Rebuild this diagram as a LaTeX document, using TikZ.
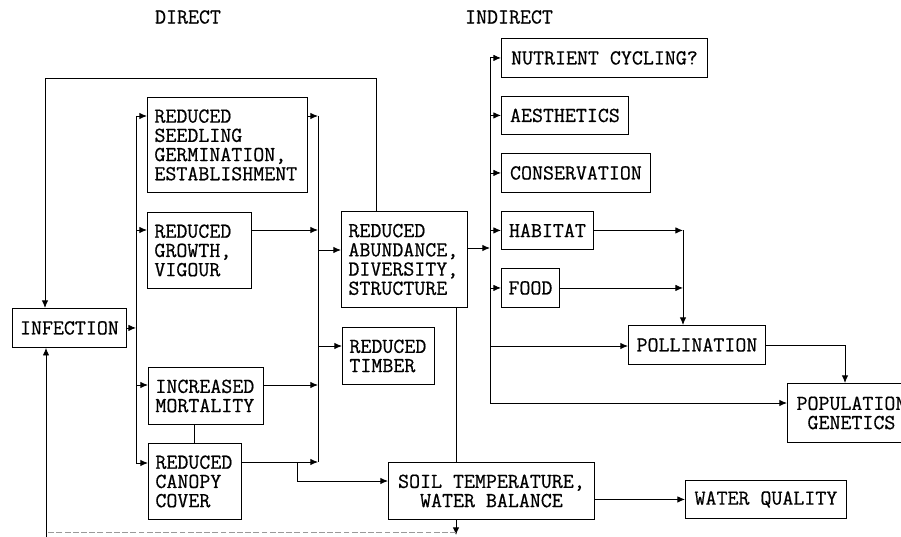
\documentclass[tikz,border=0pt]{standalone}
\usepackage{fontspec}
\usetikzlibrary{arrows.meta}
\newfontfamily\diagtt{Latin Modern Mono}[FakeBold=0.6]
\newcommand\diagfont{\diagtt\fontsize{18.2pt}{16.4pt}\selectfont}
\begin{document}
\begin{tikzpicture}[x=0.03cm,y=-0.03cm,
  box/.style={draw, line width=0.75pt, font=\diagfont, inner sep=0pt, anchor=north west},
  lbox/.style={box, align=left, inner xsep=0.21cm},
  cbox/.style={box, align=center},
  lbl/.style={font=\diagfont, inner sep=0pt},
  line/.style={line width=0.75pt},
  arr/.style={line width=0.75pt, -{Latex[length=6.5pt,width=5.5pt]}},
  faint/.style={line width=0.75pt, draw=black!40, dash pattern=on 5pt off 2pt}]
\useasboundingbox (0,0) rectangle (901,537);
\clip (0,0) rectangle (901,537);

% headings
\node[lbl] (direct) at (188,17) {DIRECT};
\node[lbl] (indirect) at (509,17) {INDIRECT};

% direct effects
\node[cbox, minimum width=3.42cm, minimum height=1.17cm] (infection) at (12,308) {INFECTION};
\node[lbox, text width=4.38cm, minimum height=2.85cm] (seed) at (147,97) {REDUCED\\SEEDLING\\GERMINATION,\\ESTABLISHMENT};
\node[lbox, text width=2.70cm, minimum height=2.28cm] (growth) at (147,212) {REDUCED\\GROWTH,\\VIGOUR};
\node[lbox, text width=3.03cm, minimum height=1.71cm] (mort) at (148,367) {INCREASED\\MORTALITY};
\node[lbox, text width=2.37cm, minimum height=2.28cm] (canopy) at (148,443) {REDUCED\\CANOPY\\COVER};
\node[lbox, text width=3.36cm, minimum height=2.88cm] (abund) at (341,211) {REDUCED\\ABUNDANCE,\\DIVERSITY,\\STRUCTURE};
\node[lbox, text width=2.34cm, minimum height=1.71cm] (timber) at (342,327) {REDUCED\\TIMBER};
\node[cbox, minimum width=6.18cm, minimum height=1.71cm] (soil) at (388,462) {SOIL TEMPERATURE,\\WATER BALANCE};

% indirect effects
\node[cbox, minimum width=6.18cm, minimum height=1.17cm] (nutrient) at (501,38) {NUTRIENT CYCLING?};
\node[cbox, minimum width=3.81cm, minimum height=1.14cm] (aesth) at (501,96) {AESTHETICS};
\node[cbox, minimum width=4.47cm, minimum height=1.17cm] (conserv) at (501,153) {CONSERVATION};
\node[cbox, minimum width=2.76cm, minimum height=1.14cm] (habitat) at (501,211) {HABITAT};
\node[cbox, minimum width=1.74cm, minimum height=1.17cm] (food) at (501,268) {FOOD};
\node[cbox, minimum width=4.11cm, minimum height=1.17cm] (poll) at (628,325) {POLLINATION};
\node[cbox, minimum width=3.84cm, minimum height=1.77cm] (popgen) at (787,383) {POPULATION\\GENETICS};
\node[cbox, minimum width=4.83cm, minimum height=1.14cm] (water) at (685,480) {WATER QUALITY};

% feedback loop at top
\coordinate (fbR) at (376,78);
\coordinate (fbL) at (45,78);
\draw[arr] (abund.north -| fbR) -- (fbR) -- (fbL) -- (infection.north -| fbL);

% left bus
\coordinate (lb1) at (136,116);
\coordinate (lb2) at (136,230);
\coordinate (lb3) at (136,385);
\coordinate (lb4) at (136,463);
\draw[line] (lb1) -- (lb4);
\draw[arr] (infection.east) -- (infection.east -| lb1);
\draw[arr] (lb1) -- (lb1 -| seed.west);
\draw[arr] (lb2) -- (lb2 -| growth.west);
\draw[arr] (lb3) -- (lb3 -| mort.west);
\draw[arr] (lb4) -- (lb4 -| canopy.west);

% right bus
\coordinate (rb1) at (318,116);
\coordinate (rb2) at (318,230);
\coordinate (rb3) at (318,385);
\coordinate (rb4) at (318,462);
\coordinate (rb5) at (318,250);
\coordinate (rb6) at (318,346);
\draw[line] (rb1) -- (rb4);
\draw[arr] (rb1 -| seed.east) -- (rb1);
\draw[arr] (rb2 -| growth.east) -- (rb2);
\draw[arr] (rb3 -| mort.east) -- (rb3);
\draw[arr] (rb4 -| canopy.east) -- (rb4);
\draw[arr] (rb5) -- (rb5 -| abund.west);
\draw[arr] (rb6) -- (rb6 -| timber.west);

% mortality - canopy link and canopy to soil
\coordinate (mc) at (194,400);
\draw[line] (mort.south -| mc) -- (canopy.north -| mc);
\coordinate (cb1) at (297,462);
\coordinate (cb2) at (297,481);
\draw[arr] (cb1) -- (cb2) -- (cb2 -| soil.west);

% indirect bus
\coordinate (ib1) at (490,248);
\coordinate (ibT) at (490,57);
\coordinate (ibP) at (490,346);
\coordinate (ibG) at (490,403);
\draw[arr] (abund.east |- ib1) -- (ib1);
\draw[line] (ibT) -- (ibG);
\draw[arr] (nutrient.west -| ibT) -- (nutrient.west);
\draw[arr] (aesth.west -| ibT) -- (aesth.west);
\draw[arr] (conserv.west -| ibT) -- (conserv.west);
\draw[arr] (habitat.west -| ibT) -- (habitat.west);
\draw[arr] (food.west -| ibT) -- (food.west);
\draw[arr] (ibP) -- (ibP -| poll.west);
\draw[arr] (ibG) -- (ibG -| popgen.west);

% habitat / food to pollination
\coordinate (hx) at (683,229);
\draw[arr] (habitat.east) -- (habitat.east -| hx);
\draw[arr] (food.east) -- (food.east -| hx);
\draw[arr] (habitat.east -| hx) -- (hx |- poll.north);

% pollination to population genetics
\coordinate (px) at (845,344);
\draw[arr] (poll.east) -- (poll.east -| px) -- (px |- popgen.north);

% soil connections
\coordinate (sx) at (456,535);
\draw[line] (abund.south -| sx) -- (soil.north -| sx);
\draw[arr] (soil.south -| sx) -- (sx);
\draw[arr] (soil.east |- water.west) -- (water.west);

% return line at bottom
\coordinate (bl) at (46,537);
\coordinate (bl2) at (46,532);
\draw[faint] (sx |- bl2) -- (bl2);
\draw[arr] (bl) -- (infection.south -| bl);
\end{tikzpicture}
\end{document}
